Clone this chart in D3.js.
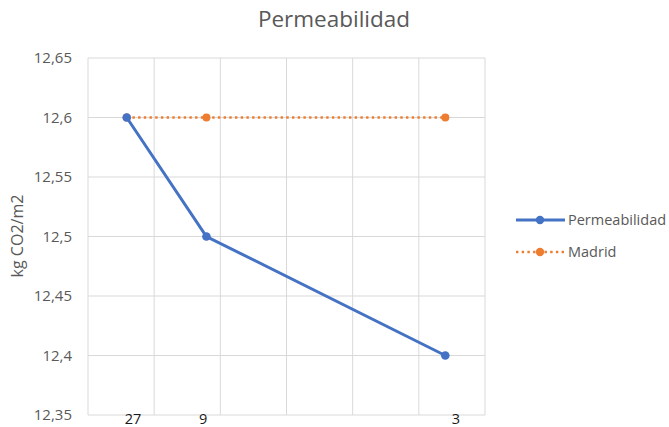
<!DOCTYPE html>
<html>
<head>
<meta charset="utf-8">
<script src="https://cdn.jsdelivr.net/npm/d3@7"></script>
<style>
  body { margin: 0; background: #fff; }
  svg { font-family: "Open Sans", "Noto Sans", sans-serif; }
</style>
</head>
<body>
<div id="chart"></div>
<script>
// data
const xLabels = ["27", "9", "3"]
const xPos = [0.585, 1.79, 5.4]          // position of each point on the x axis (0..6)
const labelPos = [0.68, 1.74, 5.56]      // where Excel put the category text
const permeabilidad = [12.6, 12.5, 12.4]
const madrid = [12.6, 12.6, 12.6]
const yTicks = [12.35, 12.4, 12.45, 12.5, 12.55, 12.6, 12.65]
const xGrid = [0, 1, 2, 3, 4, 5, 6]

const W = 669, H = 427
const margin = {top: 58, left: 88, right: 184, bottom: 12}
const blue = "#4472c4", orange = "#ed7d31"

const svg = d3.select("#chart").append("svg")
    .attr("width", W).attr("height", H)

const x = d3.scaleLinear().domain([0, 6]).range([margin.left, W - margin.right])
const y = d3.scaleLinear().domain([12.35, 12.65]).range([H - margin.bottom, margin.top])

// gridlines
svg.append("g").selectAll("line.h")
    .data(yTicks).enter().append("line")
    .attr("x1", x(0)).attr("x2", x(6))
    .attr("y1", d => y(d)).attr("y2", d => y(d))
    .attr("stroke", "#d9d9d9").attr("stroke-width", 1)

svg.append("g").selectAll("line.v")
    .data(xGrid).enter().append("line")
    .attr("x1", d => x(d)).attr("x2", d => x(d))
    .attr("y1", y(12.65)).attr("y2", y(12.35))
    .attr("stroke", "#d9d9d9").attr("stroke-width", 1)

// y tick labels
svg.append("g").selectAll("text")
    .data(yTicks).enter().append("text")
    .attr("x", 72).attr("y", d => y(d))
    .attr("dy", "0.35em")
    .attr("text-anchor", "end")
    .attr("fill", "#595959")
    .style("font-size", "15px")
    .text(d => d3.format(".2~f")(d).replace(".", ","))

// x labels
svg.append("g").selectAll("text")
    .data(xLabels).enter().append("text")
    .attr("x", (d, i) => x(labelPos[i]))
    .attr("y", y(12.35) + 4)
    .attr("dy", "0.35em")
    .attr("text-anchor", "middle")
    .attr("fill", "#1a1a1a")
    .style("font-size", "14.5px")
    .text(d => d)

// title + axis title
svg.append("text")
    .attr("x", 334).attr("y", 27)
    .attr("text-anchor", "middle")
    .attr("fill", "#595959")
    .style("font-size", "22.5px")
    .text("Permeabilidad")

svg.append("text")
    .attr("transform", "translate(23,236) rotate(-90)")
    .attr("text-anchor", "middle")
    .attr("fill", "#595959")
    .style("font-size", "16px")
    .text("kg CO2/m2")

const line = d3.line().x(d => x(d[0])).y(d => y(d[1]))

// Madrid (dotted)
const madridPts = madrid.map((v, i) => [xPos[i], v])
svg.append("path")
    .attr("d", line(madridPts))
    .attr("fill", "none")
    .attr("stroke", orange)
    .attr("stroke-width", 2.6)
    .attr("stroke-dasharray", "2.4,3.3")
svg.append("g").selectAll("circle")
    .data(madridPts).enter().append("circle")
    .attr("cx", d => x(d[0])).attr("cy", d => y(d[1]))
    .attr("r", 4).attr("fill", orange)

// Permeabilidad
const permPts = permeabilidad.map((v, i) => [xPos[i], v])
svg.append("path")
    .attr("d", line(permPts))
    .attr("fill", "none")
    .attr("stroke", blue)
    .attr("stroke-width", 3)
svg.append("g").selectAll("circle")
    .data(permPts).enter().append("circle")
    .attr("cx", d => x(d[0])).attr("cy", d => y(d[1]))
    .attr("r", 4.3).attr("fill", blue)

// legend
const legend = [
    {name: "Permeabilidad", color: blue, dash: null, yy: 220},
    {name: "Madrid", color: orange, dash: "2.4,3.3", yy: 252}
]
const lg = svg.append("g").selectAll("g")
    .data(legend).enter().append("g")
    .attr("transform", d => `translate(0,${d.yy})`)
lg.append("line")
    .attr("x1", 516).attr("x2", 565)
    .attr("stroke", d => d.color)
    .attr("stroke-width", d => d.dash ? 2.6 : 3)
    .attr("stroke-dasharray", d => d.dash)
lg.append("circle")
    .attr("cx", 540).attr("r", 4.2)
    .attr("fill", d => d.color)
lg.append("text")
    .attr("x", 568).attr("dy", "0.35em")
    .attr("fill", "#595959")
    .style("font-size", "14.5px")
    .text(d => d.name)
</script>
</body>
</html>
